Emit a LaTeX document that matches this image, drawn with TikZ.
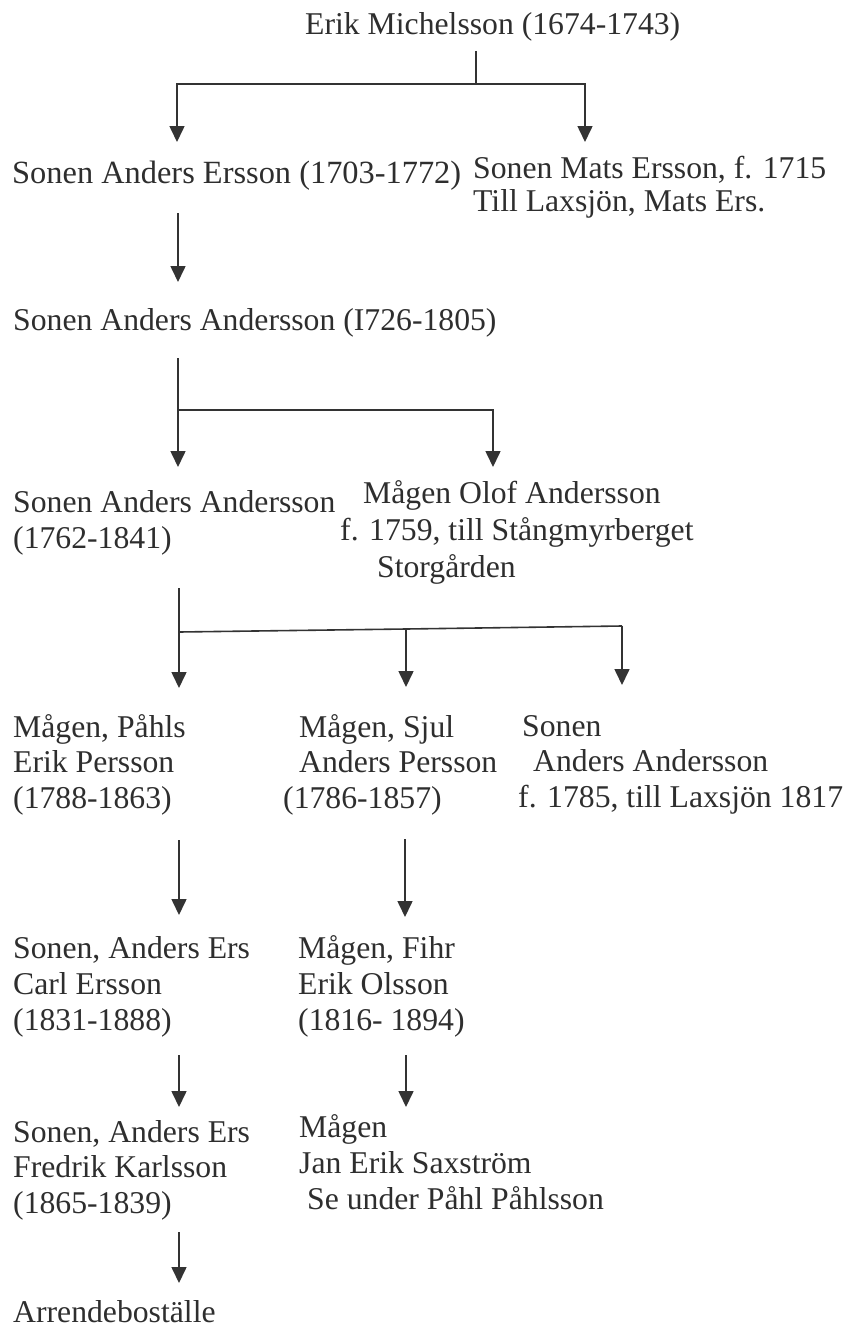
\documentclass[tikz,border=0pt]{standalone}
\usepackage{fontspec}
\setmainfont{Liberation Serif}
\usetikzlibrary{arrows.meta}
\begin{document}
\begin{tikzpicture}[x=1pt,y=-1pt,
  txt/.style={anchor=base west,inner sep=0pt,align=left,text=black!82,font=\fontsize{31.7}{35.5}\selectfont},
  ln/.style={line width=1.6pt,draw=black!80},
  arr/.style={ln,-{Triangle[width=15pt,length=16pt]}}]
\useasboundingbox (0,0) rectangle (847,1330);
% texts (anchor = baseline of the last line)
\node[txt] (title) at (305,35) {Erik Michelsson (1674-1743)};
\node[txt,font=\fontsize{32.4}{35.5}\selectfont] (anders1) at (12,183) {Sonen Anders Ersson (1703-1772)};
\node[txt,font=\fontsize{31.7}{33}\selectfont] (mats) at (473,211) {Sonen Mats Ersson, f. 1715\\Till Laxsjön, Mats Ers.};
\node[txt] (anders2) at (13,330) {Sonen Anders Andersson (I726-1805)};
\node[txt] (anders3) at (13,548) {Sonen Anders Andersson\\(1762-1841)};
\node[txt,font=\fontsize{31.7}{37}\selectfont] (olof) at (340,577) {\hspace*{23pt}Mågen Olof Andersson\\f. 1759, till Stångmyrberget\\\hspace*{37pt}Storgården};
\node[txt] (erik) at (13,808) {Mågen, Påhls\\Erik Persson\\(1788-1863)};
\node[txt] (sjul) at (283,808) {\hspace*{16pt}Mågen, Sjul\\\hspace*{16pt}Anders Persson\\(1786-1857)};
\node[txt] (sonen4) at (518,807) {\hspace*{4pt}Sonen\\\hspace*{15pt}Anders Andersson\\f. 1785, till Laxsjön 1817};
\node[txt,font=\fontsize{31.7}{36}\selectfont] (carl) at (13,1030) {Sonen, Anders Ers\\Carl Ersson\\(1831-1888)};
\node[txt,font=\fontsize{31.7}{36}\selectfont] (fihr) at (298,1030) {Mågen, Fihr\\Erik Olsson\\(1816- 1894)};
\node[txt] (fredrik) at (13,1213) {Sonen, Anders Ers\\Fredrik Karlsson\\(1865-1839)};
\node[txt,font=\fontsize{31.7}{36}\selectfont] (jan) at (299,1209) {Mågen\\Jan Erik Saxström\\\hspace*{8pt}Se under Påhl Påhlsson};
\node[txt] (arrende) at (13,1322) {Arrendeboställe};
% junctions and arrow ends
\coordinate (t0) at (476,51);
\coordinate (t1) at (476,84);
\coordinate (tl) at (177,84);
\coordinate (tr) at (585,84);
\coordinate (a1l) at (177,142);
\coordinate (a1r) at (585,142);
\coordinate (b0) at (178,213);
\coordinate (b1) at (178,282);
\coordinate (c0) at (178,358);
\coordinate (cj) at (178,410);
\coordinate (cr) at (493,410);
\coordinate (c1l) at (178,467);
\coordinate (c1r) at (493,467);
\coordinate (d0) at (179,588);
\coordinate (dj) at (179,632);
\coordinate (dm) at (406,629);
\coordinate (dr) at (622,626);
\coordinate (d1l) at (179,688);
\coordinate (d1m) at (406,687);
\coordinate (d1r) at (622,685);
\coordinate (e0l) at (179,840);
\coordinate (e1l) at (179,915);
\coordinate (e0m) at (405,839);
\coordinate (e1m) at (405,917);
\coordinate (f0l) at (179,1055);
\coordinate (f1l) at (179,1107);
\coordinate (f0m) at (406,1055);
\coordinate (f1m) at (406,1107);
\coordinate (g0) at (179,1232);
\coordinate (g1) at (179,1283);
% connectors
\draw[ln] (t0) -- (t1);
\draw[arr] (t1) -- (tl) -- (a1l);
\draw[arr] (t1) -- (tr) -- (a1r);
\draw[arr] (b0) -- (b1);
\draw[arr] (c0) -- (c1l);
\draw[arr] (cj) -- (cr) -- (c1r);
\draw[arr] (d0) -- (d1l);
\draw[ln] (dj) -- (dm) -- (dr);
\draw[arr] (dm) -- (d1m);
\draw[arr] (dr) -- (d1r);
\draw[arr] (e0l) -- (e1l);
\draw[arr] (e0m) -- (e1m);
\draw[arr] (f0l) -- (f1l);
\draw[arr] (f0m) -- (f1m);
\draw[arr] (g0) -- (g1);
\end{tikzpicture}
\end{document}
